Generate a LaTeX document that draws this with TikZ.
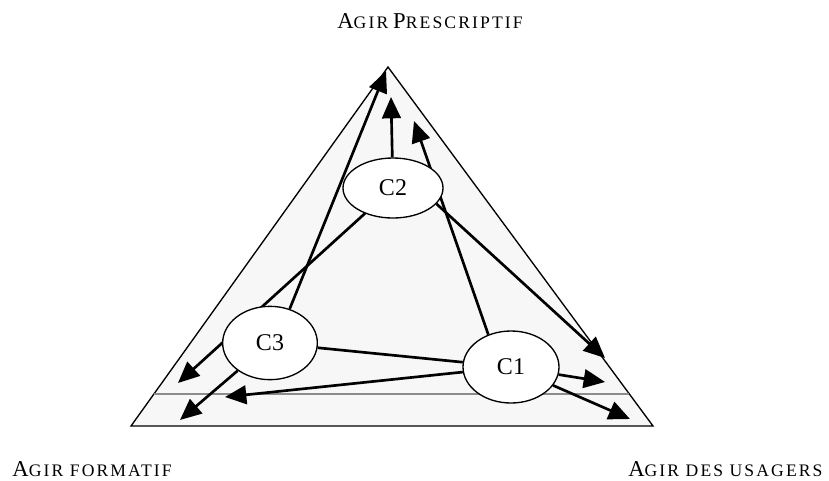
\documentclass[tikz,border=0pt]{standalone}
\usepackage{fontspec}
\setmainfont{Liberation Serif}
\newfontfamily\polefont[LetterSpace=12]{Liberation Serif}
\usetikzlibrary{shapes.geometric, arrows.meta, backgrounds, calc}

\newcommand{\capletter}[1]{{\fontsize{17}{19}\selectfont #1}}
\newcommand{\smallletters}[1]{{\fontsize{13.2}{15}\selectfont #1}}

\tikzstyle{pole} = [font=\polefont, inner sep=0pt]
\tikzstyle{cnode} = [ellipse, 
line width=1pt,
fill=white,
font=\fontsize{18}{20}\selectfont,
draw=black]
\tikzstyle{arrow} = [line width=2pt,-{Triangle[length=16pt,width=14pt]}]
\tikzstyle{link} = [line width=2pt]

\begin{document}
\begin{tikzpicture}[x=0.75pt, y=-0.75pt]
\useasboundingbox (0,0) rectangle (829,480);

% corners of the triangle
\coordinate (apex) at (388,67);
\coordinate (botleft) at (131,426);
\coordinate (botright) at (653,426);

\node (presc) [pole, anchor=base] at (430,28) {\capletter{A}\smallletters{GIR} \capletter{P}\smallletters{RESCRIPTIF}};
\node (form) [pole, anchor=base east] at (172,476) {\capletter{A}\smallletters{GIR FORMATIF}};
\node (usag) [pole, anchor=base west] at (628,476) {\capletter{A}\smallletters{GIR DES USAGERS}};

\node (c2) [cnode, minimum width=75pt, minimum height=45pt] at (393,188) {C2};
\node (c3) [cnode, minimum width=71pt, minimum height=55pt] at (270,343) {C3};
\node (c1) [cnode, minimum width=72pt, minimum height=54pt] at (511,367) {C1};

% arrow ends
\coordinate (tipC2) at (391,97);
\coordinate (tipApex) at (386,71);
\coordinate (tipC1up) at (414,121);
\coordinate (tipLeftA) at (178,383);
\coordinate (tipRightA) at (605,358);
\coordinate (tipLeftB) at (225,397);
\coordinate (tipLeftC) at (180,420);
\coordinate (tipRightB) at (605,382);
\coordinate (tipRightC) at (630,419);

\begin{pgfonlayer}{background}
\draw [line width=1pt, fill=black!3] (apex) -- (botleft) -- (botright) -- cycle;
\draw [line width=1.2pt, black!45] ($(apex)!0.911!(botleft)$) -- ($(apex)!0.911!(botright)$);

\draw [arrow] (c2) -- (tipC2);
\draw [arrow] (c3.60) -- (tipApex);
\draw [arrow] (c1.125) -- (tipC1up);
\draw [arrow] (c2) -- (tipLeftA);
\draw [arrow] (c2.-20) -- (tipRightA);

\draw [link] (c3) -- (c1);
\draw [arrow] (c1) -- (tipLeftB);
\draw [arrow] (c3) -- (tipLeftC);
\draw [arrow] (c1) -- (tipRightB);
\draw [arrow] (c1) -- (tipRightC);
\end{pgfonlayer}

\end{tikzpicture}
\end{document}
